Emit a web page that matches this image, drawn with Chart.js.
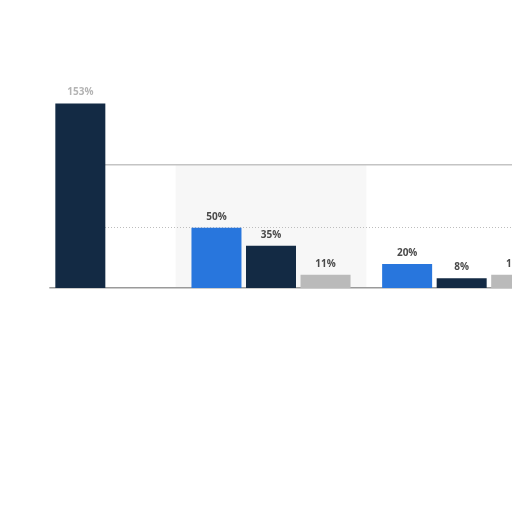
<!DOCTYPE html>
<html>
<head>
<meta charset="utf-8">
<script src="https://cdn.jsdelivr.net/npm/chart.js@4/dist/chart.umd.min.js"></script>
<style>
  html, body { margin: 0; padding: 0; background: #fff; overflow: hidden; width: 512px; height: 512px; }
  #wrap { position: absolute; left: -15px; top: 0; width: 572px; height: 300px; }
</style>
</head>
<body>
<div id="wrap"><canvas id="chart"></canvas></div>
<script>
// values
const categories = ['Group 1', 'Group 2', 'Group 3'];
const blueValues = [null, 50, 20];
const navyValues = [153, 35, 8];
const greyValues = [null, 11, 11];
const gridTicks = [50];

// light band behind the middle category
const bandPlugin = {
    id: 'band',
    beforeDraw(chart) {
        const x = chart.scales.x, area = chart.chartArea, ctx = chart.ctx;
        const w = (area.right - area.left) / categories.length;
        ctx.save();
        ctx.fillStyle = '#f7f7f7';
        ctx.fillRect(x.getPixelForValue(1) - w / 2, area.top, w, area.bottom - area.top);
        ctx.restore();
    }
};

// the plot frame starts at the first bar, clear what is left of it
const trimPlugin = {
    id: 'trim',
    beforeDatasetsDraw(chart) {
        const bar = chart.getDatasetMeta(1).data[0];
        const area = chart.chartArea, ctx = chart.ctx;
        const left = bar.x - bar.width / 2;
        ctx.save();
        ctx.fillStyle = '#fff';
        ctx.fillRect(0, area.top - 3, left + 2, area.bottom - area.top + 2);
        ctx.fillRect(0, area.bottom - 2, left - 6, 5);
        ctx.restore();
    }
};

// percentage labels above bars
const labelPlugin = {
    id: 'labels',
    afterDatasetsDraw(chart) {
        const ctx = chart.ctx;
        ctx.save();
        ctx.textAlign = 'center';
        ctx.textBaseline = 'bottom';
        ctx.font = 'bold 10px "Open Sans"';
        chart.data.datasets.forEach((ds, i) => {
            chart.getDatasetMeta(i).data.forEach((el, j) => {
                const v = ds.data[j];
                if (v == null) return;
                ctx.fillStyle = v > 100 ? '#b4b4b4' : '#4a4a4a';
                ctx.fillText(v + '%', el.x, el.y - 6);
            });
        });
        ctx.restore();
    }
};

new Chart(document.getElementById('chart'), {
    type: 'bar',
    data: {
        labels: categories,
        datasets: [
            { label: 'Blue', data: blueValues, backgroundColor: '#2876dd' },
            { label: 'Navy', data: navyValues, backgroundColor: '#132a44', clip: false },
            { label: 'Grey', data: greyValues, backgroundColor: '#bababa' }
        ]
    },
    options: {
        responsive: true,
        maintainAspectRatio: false,
        animation: false,
        categoryPercentage: 0.858,
        barPercentage: 0.917,
        layout: { padding: { top: 165, bottom: 12, left: 0, right: 0 } },
        plugins: {
            legend: { display: false },
            tooltip: { enabled: false }
        },
        scales: {
            x: {
                grid: { display: false },
                ticks: { display: false },
                border: { color: '#9a9a9a', width: 1.5 },
                afterFit: s => { s.height = 0; }
            },
            x2: {
                type: 'category',
                labels: categories,
                position: 'top',
                grid: { display: false },
                ticks: { display: false },
                border: { color: '#c4c4c4', width: 1.5 },
                afterFit: s => { s.height = 0; }
            },
            y: {
                min: 0,
                max: 102,
                afterBuildTicks: s => { s.ticks = gridTicks.map(v => ({ value: v })); },
                ticks: { display: false },
                border: { display: false, dash: [1, 2] },
                grid: { color: '#bdbdbd', lineWidth: 1, tickLength: 0 },
                afterFit: s => { s.width = 0; }
            }
        }
    },
    plugins: [bandPlugin, trimPlugin, labelPlugin]
});
</script>
</body>
</html>
